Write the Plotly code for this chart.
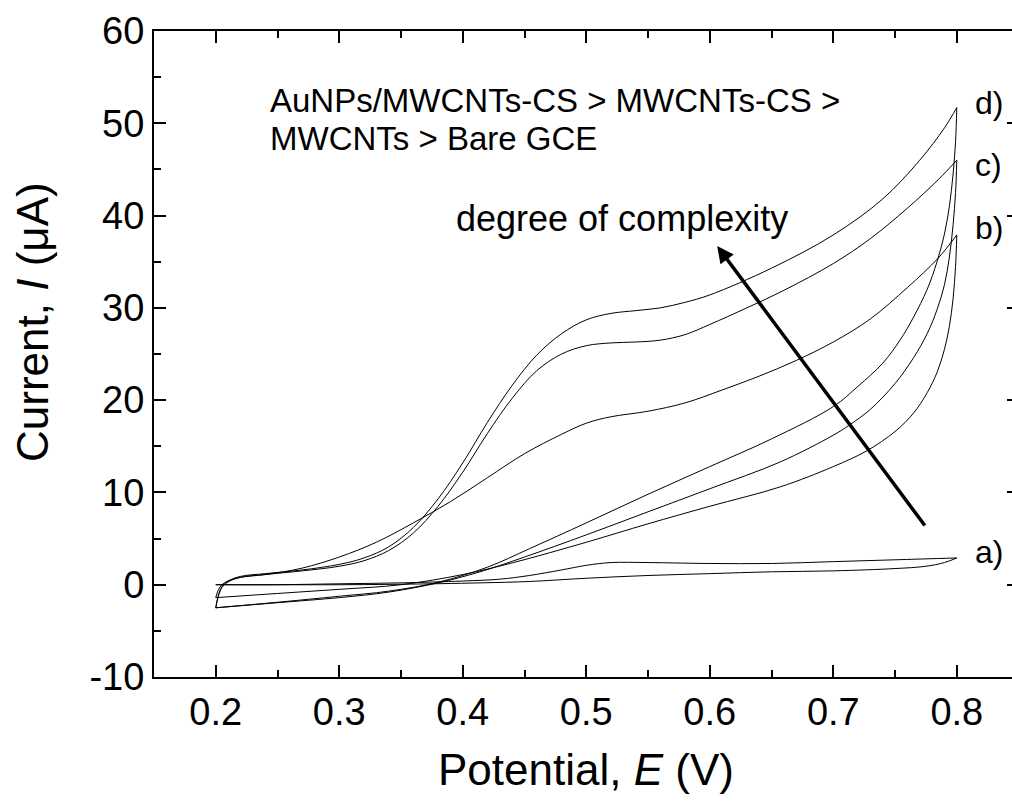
import plotly.graph_objects as go

# ---------------- data ----------------
# Potential E (V) and current I (uA); forward (anodic) and reverse scans
a_fwd_E = [0.200, 0.250, 0.300, 0.350, 0.400, 0.430, 0.454, 0.480, 0.500, 0.520, 0.550, 0.600, 0.650, 0.700, 0.750, 0.800]
a_fwd_I = [0.0, 0.0, 0.1, 0.2, 0.4, 0.6, 1.0, 1.6, 2.1, 2.4, 2.4, 2.3, 2.3, 2.5, 2.7, 2.9]
a_rev_E = [0.800, 0.790, 0.775, 0.750, 0.700, 0.650, 0.600, 0.550, 0.500, 0.454, 0.414, 0.350, 0.300, 0.200]
a_rev_I = [2.9, 2.4, 2.0, 1.75, 1.5, 1.4, 1.2, 1.0, 0.7, 0.35, 0.2, 0.05, 0.0, 0.0]

b_fwd_E = [0.200, 0.202, 0.205, 0.210, 0.220, 0.240, 0.270, 0.300, 0.330, 0.360, 0.390, 0.420, 0.450, 0.480,
           0.500, 0.520, 0.550, 0.580, 0.610, 0.640, 0.670, 0.700, 0.730, 0.760, 0.785, 0.800]
b_fwd_I = [-1.4, -0.6, 0.0, 0.4, 0.8, 1.1, 1.8, 3.0, 4.6, 6.7, 9.0, 11.6, 14.2, 16.3,
           17.5, 18.2, 18.8, 19.7, 21.1, 22.6, 24.3, 26.3, 28.8, 32.2, 35.4, 37.9]
b_rev_E = [0.800, 0.799, 0.797, 0.794, 0.790, 0.784, 0.776, 0.765, 0.750, 0.727, 0.700, 0.657, 0.600, 0.550,
           0.500, 0.441, 0.400, 0.350, 0.300, 0.250, 0.200]
b_rev_I = [37.9, 34.5, 31.0, 28.0, 25.5, 23.0, 20.8, 18.6, 16.6, 14.5, 12.8, 10.6, 8.5, 6.6,
           4.6, 2.4, 1.1, 0.0, -0.5, -0.95, -1.4]

c_fwd_E = [0.200, 0.202, 0.205, 0.210, 0.220, 0.240, 0.270, 0.300, 0.320, 0.340, 0.360, 0.380, 0.400, 0.420,
           0.440, 0.460, 0.480, 0.500, 0.520, 0.540, 0.560, 0.580, 0.600, 0.630, 0.660, 0.700, 0.730, 0.760,
           0.785, 0.800]
c_fwd_I = [-2.5, -1.3, -0.3, 0.3, 0.8, 1.1, 1.5, 2.0, 2.6, 3.7, 5.6, 8.5, 12.2, 16.4,
           20.2, 23.2, 25.0, 25.9, 26.2, 26.3, 26.5, 27.1, 28.2, 30.0, 31.9, 34.8, 37.5, 40.8,
           43.9, 46.0]
c_rev_E = [0.800, 0.799, 0.797, 0.794, 0.790, 0.784, 0.776, 0.765, 0.750, 0.730, 0.713, 0.700, 0.657, 0.600,
           0.550, 0.500, 0.450, 0.414, 0.380, 0.340, 0.300, 0.250, 0.200]
c_rev_I = [46.0, 42.5, 39.0, 35.5, 32.5, 29.8, 27.2, 24.6, 21.8, 19.0, 17.3, 16.2, 13.3, 10.4,
           7.9, 5.4, 3.0, 1.4, 0.2, -0.8, -1.4, -1.95, -2.5]

d_fwd_E = [0.200, 0.202, 0.205, 0.210, 0.220, 0.240, 0.270, 0.300, 0.320, 0.340, 0.360, 0.380, 0.400, 0.420,
           0.440, 0.460, 0.480, 0.500, 0.520, 0.540, 0.560, 0.580, 0.600, 0.650, 0.700, 0.740, 0.770, 0.790,
           0.800]
d_fwd_I = [-2.5, -1.2, -0.2, 0.4, 0.9, 1.2, 1.6, 2.2, 2.9, 4.1, 6.2, 9.3, 13.2, 17.6,
           21.6, 24.9, 27.2, 28.7, 29.4, 29.7, 30.0, 30.6, 31.4, 34.3, 37.9, 41.8, 46.0, 49.5,
           51.7]
d_rev_E = [0.800, 0.799, 0.797, 0.794, 0.790, 0.784, 0.776, 0.765, 0.754, 0.740, 0.720, 0.700, 0.650, 0.600,
           0.550, 0.500, 0.454, 0.420, 0.381, 0.340, 0.300, 0.250, 0.200]
d_rev_I = [51.7, 48.0, 44.5, 41.0, 38.0, 35.0, 32.0, 29.0, 26.5, 24.0, 21.5, 19.3, 15.8, 12.8,
           9.8, 6.7, 3.9, 1.9, 0.3, -0.7, -1.25, -1.9, -2.5]

curve_labels = ["a)", "b)", "c)", "d)"]
label_I = [3.5, 38.6, 45.5, 52.2]

x_tick_vals = [0.2, 0.3, 0.4, 0.5, 0.6, 0.7, 0.8]
x_tick_text = ["0.2", "0.3", "0.4", "0.5", "0.6", "0.7", "0.8"]
x_minor_vals = [0.15, 0.25, 0.35, 0.45, 0.55, 0.65, 0.75]
y_tick_vals = [-10, 0, 10, 20, 30, 40, 50, 60]
y_tick_text = ["-10", "0", "10", "20", "30", "40", "50", "60"]
y_minor_vals = [-5, 5, 15, 25, 35, 45, 55]

# ---------------- figure ----------------
FONT = "Liberation Sans, Arial, Helvetica, sans-serif"
fig = go.Figure()

series = [
    (a_fwd_E, a_fwd_I, a_rev_E, a_rev_I),
    (b_fwd_E, b_fwd_I, b_rev_E, b_rev_I),
    (c_fwd_E, c_fwd_I, c_rev_E, c_rev_I),
    (d_fwd_E, d_fwd_I, d_rev_E, d_rev_I),
]
for k, (fe, fi, re_, ri) in enumerate(series):
    for j, (xs, ys) in enumerate(((fe, fi), (re_, ri))):
        fig.add_trace(go.Scatter(
            x=xs, y=ys, mode="lines",
            # first trace is bound to the (identical) right-hand axis so its ticks are drawn
            yaxis="y2" if (k == 0 and j == 0) else "y",
            line=dict(color="black", width=1.0, shape="spline", smoothing=1.0),
            showlegend=False, hoverinfo="skip"))

x_range = [0.15, 0.8447]
y_range = [-10, 60]

fig.update_layout(
    width=1012, height=807,
    margin=dict(l=154, r=0, t=31, b=130, pad=0),
    paper_bgcolor="white", plot_bgcolor="white",
    showlegend=False,
    font=dict(family=FONT, color="black"),
    xaxis=dict(
        range=x_range, tickmode="array", tickvals=x_tick_vals, ticktext=x_tick_text,
        ticks="inside", ticklen=12, tickwidth=2, tickcolor="black",
        showline=True, linewidth=2, linecolor="black", mirror="ticks",
        showgrid=False, zeroline=False, tickfont=dict(size=38, family=FONT),
        minor=dict(tickmode="array", tickvals=x_minor_vals, ticks="inside", ticklen=7,
                   tickwidth=2, tickcolor="black", showgrid=False),
    ),
    yaxis=dict(
        range=y_range, tickmode="array", tickvals=y_tick_vals, ticktext=y_tick_text,
        ticks="inside", ticklen=12, tickwidth=2, tickcolor="black",
        showline=True, linewidth=2, linecolor="black", mirror=False,
        showgrid=False, zeroline=False, tickfont=dict(size=38, family=FONT),
        minor=dict(tickmode="array", tickvals=y_minor_vals, ticks="inside", ticklen=7,
                   tickwidth=2, tickcolor="black", showgrid=False),
    ),
    yaxis2=dict(
        range=y_range, overlaying="y", side="right", anchor="x",
        tickmode="array", tickvals=y_tick_vals, ticks="inside", ticklen=5, tickwidth=2,
        tickcolor="black", showticklabels=False, showline=False, showgrid=False, zeroline=False,
    ),
)

# axis titles
fig.add_annotation(text="Potential, <i>E</i> (V)", xref="paper", yref="paper",
                   x=(586 - 154) / 858, y=(677 - 770) / 646, showarrow=False,
                   xanchor="center", yanchor="middle", font=dict(size=44, family=FONT))
fig.add_annotation(text="Current, <i>I</i> (\u03bcA)", xref="paper", yref="paper",
                   x=(32 - 154) / 858, y=(677 - 322) / 646, showarrow=False, textangle=-90,
                   xanchor="center", yanchor="middle", font=dict(size=44, family=FONT))

# text annotations
fig.add_annotation(text="AuNPs/MWCNTs-CS &gt; MWCNTs-CS &gt;", x=0.2421, y=52.5, xref="x", yref="y",
                   showarrow=False, xanchor="left", yanchor="middle", font=dict(size=33, family=FONT))
fig.add_annotation(text="MWCNTs &gt; Bare GCE", x=0.2421, y=48.4, xref="x", yref="y",
                   showarrow=False, xanchor="left", yanchor="middle", font=dict(size=33, family=FONT))
fig.add_annotation(text="degree of complexity", x=0.3925, y=39.7, xref="x", yref="y",
                   showarrow=False, xanchor="left", yanchor="middle", font=dict(size=36, family=FONT))

for lab, yy in zip(curve_labels, label_I):
    fig.add_annotation(text=lab, x=0.813, y=yy, xref="x", yref="y", showarrow=False,
                       xanchor="left", yanchor="middle", font=dict(size=32, family=FONT))

# arrow
fig.add_annotation(x=0.606, y=36.7, ax=0.775, ay=6.25, xref="x", yref="y", axref="x", ayref="y",
                   text="", showarrow=True, arrowhead=2, arrowsize=0.95, arrowwidth=3.5,
                   arrowcolor="black", standoff=0)

fig.write_html("out.html")
